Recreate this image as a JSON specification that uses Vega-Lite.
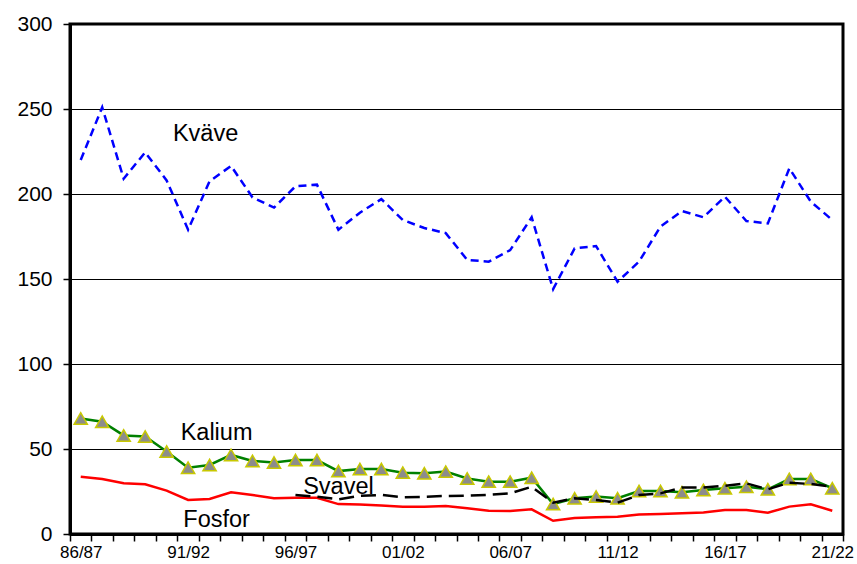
{
  "$schema": "https://vega.github.io/schema/vega-lite/v6.json",
  "autosize": "none",
  "width": 773,
  "height": 510,
  "padding": {"left": 70, "top": 24, "right": 14, "bottom": 30},
  "background": "white",
  "config": {
    "font": "Liberation Sans",
    "view": {"stroke": "black", "strokeWidth": 3},
    "axis": {"labelColor": "black", "domainColor": "black", "tickColor": "black", "labelFont": "Liberation Sans"}
  },
  "datasets": {
    "series": [
      {"season": "86/87", "Kvave": 220, "Kalium": 68, "Svavel": null, "Fosfor": 33.7},
      {"season": "87/88", "Kvave": 251, "Kalium": 66, "Svavel": null, "Fosfor": 32.4},
      {"season": "88/89", "Kvave": 209, "Kalium": 58, "Svavel": null, "Fosfor": 29.8},
      {"season": "89/90", "Kvave": 224.5, "Kalium": 57.3, "Svavel": null, "Fosfor": 29.2},
      {"season": "90/91", "Kvave": 208, "Kalium": 48.5, "Svavel": null, "Fosfor": 25.5},
      {"season": "91/92", "Kvave": 179, "Kalium": 39, "Svavel": null, "Fosfor": 20},
      {"season": "92/93", "Kvave": 207.5, "Kalium": 40.6, "Svavel": null, "Fosfor": 20.6},
      {"season": "93/94", "Kvave": 216.5, "Kalium": 46.5, "Svavel": null, "Fosfor": 24.5},
      {"season": "94/95", "Kvave": 198, "Kalium": 43, "Svavel": null, "Fosfor": 22.9},
      {"season": "95/96", "Kvave": 192, "Kalium": 42, "Svavel": null, "Fosfor": 21},
      {"season": "96/97", "Kvave": 204.5, "Kalium": 43.5, "Svavel": 22.9, "Fosfor": 21.3},
      {"season": "97/98", "Kvave": 205.5, "Kalium": 43.5, "Svavel": 22, "Fosfor": 21.3},
      {"season": "98/99", "Kvave": 179, "Kalium": 37, "Svavel": 20.4, "Fosfor": 17.6},
      {"season": "99/00", "Kvave": 189, "Kalium": 38.2, "Svavel": 22.4, "Fosfor": 17.4},
      {"season": "00/01", "Kvave": 197, "Kalium": 38.2, "Svavel": 23, "Fosfor": 16.7},
      {"season": "01/02", "Kvave": 184.7, "Kalium": 36.1, "Svavel": 21.6, "Fosfor": 16.1},
      {"season": "02/03", "Kvave": 180, "Kalium": 35.7, "Svavel": 21.9, "Fosfor": 16.1},
      {"season": "03/04", "Kvave": 177, "Kalium": 36.7, "Svavel": 22.4, "Fosfor": 16.5},
      {"season": "04/05", "Kvave": 161.2, "Kalium": 32.7, "Svavel": 22.5, "Fosfor": 15.1},
      {"season": "05/06", "Kvave": 160.2, "Kalium": 30.8, "Svavel": 23, "Fosfor": 13.7},
      {"season": "06/07", "Kvave": 167, "Kalium": 30.8, "Svavel": 23.9, "Fosfor": 13.5},
      {"season": "07/08", "Kvave": 186.3, "Kalium": 33.1, "Svavel": 27.8, "Fosfor": 14.5},
      {"season": "08/09", "Kvave": 144, "Kalium": 17.6, "Svavel": 18.4, "Fosfor": 7.8},
      {"season": "09/10", "Kvave": 168, "Kalium": 21, "Svavel": 21, "Fosfor": 9.4},
      {"season": "10/11", "Kvave": 169.4, "Kalium": 22, "Svavel": 20, "Fosfor": 9.8},
      {"season": "11/12", "Kvave": 148.4, "Kalium": 21, "Svavel": 18.4, "Fosfor": 10.2},
      {"season": "12/13", "Kvave": 160.2, "Kalium": 25.3, "Svavel": 22.9, "Fosfor": 11.4},
      {"season": "13/14", "Kvave": 180.8, "Kalium": 25.3, "Svavel": 23.9, "Fosfor": 11.8},
      {"season": "14/15", "Kvave": 190, "Kalium": 24.5, "Svavel": 27.3, "Fosfor": 12.2},
      {"season": "15/16", "Kvave": 186.3, "Kalium": 25.9, "Svavel": 27.3, "Fosfor": 12.7},
      {"season": "16/17", "Kvave": 198.4, "Kalium": 26.9, "Svavel": 28.4, "Fosfor": 14.1},
      {"season": "17/18", "Kvave": 184.1, "Kalium": 27.8, "Svavel": 29.8, "Fosfor": 14.1},
      {"season": "18/19", "Kvave": 182.7, "Kalium": 26.3, "Svavel": 26.3, "Fosfor": 12.5},
      {"season": "19/20", "Kvave": 215.1, "Kalium": 32.4, "Svavel": 30.2, "Fosfor": 16.1},
      {"season": "20/21", "Kvave": 195.5, "Kalium": 32.4, "Svavel": 29.4, "Fosfor": 17.5},
      {"season": "21/22", "Kvave": 184.7, "Kalium": 26.9, "Svavel": 27.8, "Fosfor": 13.7}
    ],
    "labels": [
      {"season": "92/93", "value": 235.3, "text": "Kväve"},
      {"season": "92/93", "value": 59.5, "text": "Kalium"},
      {"season": "98/99", "value": 27.4, "text": "Svavel"},
      {"season": "92/93", "value": 8, "text": "Fosfor"}
    ]
  },
  "encoding": {
    "x": {
      "field": "season",
      "type": "ordinal",
      "sort": null,
      "scale": {"type": "band", "paddingInner": 0, "paddingOuter": 0},
      "axis": {
        "title": null,
        "labelAngle": 0,
        "labelFontSize": 17,
        "labelPadding": 3,
        "tickBand": "extent",
        "tickSize": 7,
        "tickWidth": 1.5,
        "domainWidth": 3,
        "labelExpr": "indexof(['86/87','91/92','96/97','01/02','06/07','11/12','16/17','21/22'], datum.value) >= 0 ? datum.label : ''",
        "grid": false
      }
    }
  },
  "layer": [
    {
      "data": {"name": "series"},
      "mark": {"type": "line", "color": "#FF0000", "strokeWidth": 2.5},
      "encoding": {
        "y": {
          "field": "Fosfor",
          "type": "quantitative",
          "scale": {"domain": [0, 300], "nice": false},
          "axis": {
            "title": null,
            "values": [0, 50, 100, 150, 200, 250, 300],
            "labelFontSize": 21,
            "labelPadding": 11,
            "tickSize": 7,
            "tickWidth": 1.5,
            "domainWidth": 3,
            "grid": true,
            "gridColor": "black",
            "gridWidth": 1,
            "gridOpacity": 1
          }
        }
      }
    },
    {
      "data": {"name": "series"},
      "mark": {"type": "line", "color": "#008000", "strokeWidth": 2.5},
      "encoding": {"y": {"field": "Kalium", "type": "quantitative"}}
    },
    {
      "data": {"name": "series"},
      "mark": {"type": "point", "shape": "triangle-up", "size": 175, "filled": true, "fill": "#8C8C8C", "stroke": "#C8C800", "strokeWidth": 1.5, "opacity": 1},
      "encoding": {"y": {"field": "Kalium", "type": "quantitative"}}
    },
    {
      "data": {"name": "series"},
      "mark": {"type": "line", "color": "black", "strokeWidth": 2.5, "strokeDash": [15, 7]},
      "encoding": {"y": {"field": "Svavel", "type": "quantitative"}}
    },
    {
      "data": {"name": "series"},
      "mark": {"type": "line", "color": "#0000FF", "strokeWidth": 2.5, "strokeDash": [8, 5]},
      "encoding": {"y": {"field": "Kvave", "type": "quantitative"}}
    },
    {
      "data": {"name": "labels"},
      "transform": [{"filter": "datum.text === 'Kväve'"}],
      "mark": {"type": "text", "fontSize": 23.5, "font": "Liberation Sans", "color": "black", "align": "center", "baseline": "middle", "dx": -4},
      "encoding": {
        "y": {"field": "value", "type": "quantitative"},
        "text": {"field": "text"}
      }
    },
    {
      "data": {"name": "labels"},
      "transform": [{"filter": "datum.text === 'Kalium' || datum.text === 'Fosfor'"}],
      "mark": {"type": "text", "fontSize": 23.5, "font": "Liberation Sans", "color": "black", "align": "center", "baseline": "middle", "dx": 7},
      "encoding": {
        "y": {"field": "value", "type": "quantitative"},
        "text": {"field": "text"}
      }
    },
    {
      "data": {"name": "labels"},
      "transform": [{"filter": "datum.text === 'Svavel'"}],
      "mark": {"type": "text", "fontSize": 23.5, "font": "Liberation Sans", "color": "black", "align": "center", "baseline": "middle", "dx": 0},
      "encoding": {
        "y": {"field": "value", "type": "quantitative"},
        "text": {"field": "text"}
      }
    }
  ]
}
